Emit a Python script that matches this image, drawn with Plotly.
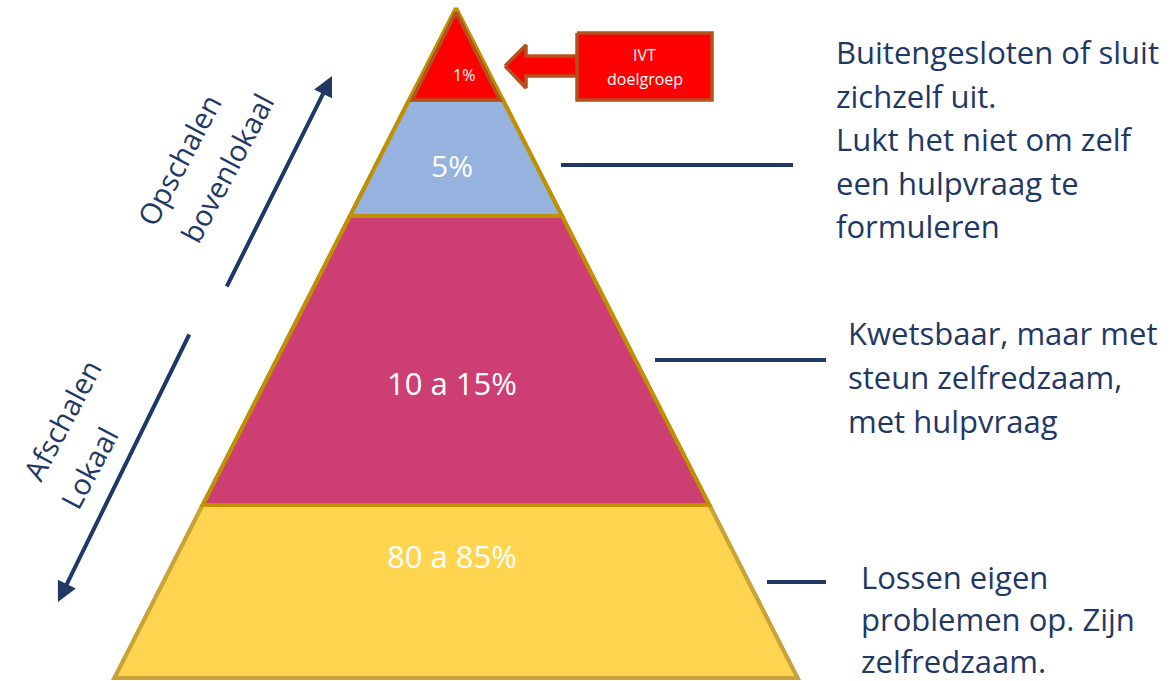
import plotly.graph_objects as go

# ---------------- data ----------------
layer_names = ["IVT doelgroep", "Buitengesloten", "Kwetsbaar", "Zelfredzaam"]
layer_pcts = ["1%", "5%", "10 a 15%", "80 a 85%"]
desc_blocks = [
    ["Buitengesloten of sluit", "zichzelf uit.", "Lukt het niet om zelf", "een hulpvraag te", "formuleren"],
    ["Kwetsbaar, maar met", "steun zelfredzaam,", "met hulpvraag"],
    ["Lossen eigen", "problemen op. Zijn", "zelfredzaam."],
]
callout_lines = ["IVT", "doelgroep"]
up_label = ["Opschalen", "bovenlokaal"]
down_label = ["Afschalen", "Lokaal"]

# ---------------- geometry & style ----------------
W, H = 1171, 681
apex_x, apex_y = 456, 8
base_y = 678
slope = 341.5 / (base_y - apex_y)
bounds = [apex_y, 100, 216, 505, base_y]
fills = ["#FF0000", "#95B3DE", "#CD3F72", "#FFD54F"]
outlines = ["#B5501F", "#BF9000", "#BF9000", "#C9A23A"]
pct_pos = [(464, 75, 16), (452, 165, 30), (452, 383, 31), (452, 556, 31)]
navy = "#1F3864"
FONT = "Open Sans"


def hw(y):
    return (y - apex_y) * slope


fig = go.Figure()

# pyramid outer outline
fig.add_trace(go.Scatter(
    x=[apex_x, apex_x + hw(base_y), apex_x - hw(base_y), apex_x],
    y=[apex_y, base_y, base_y, apex_y],
    mode="lines", line=dict(color="#BF9000", width=4), hoverinfo="skip"))

# layers, bottom to top
for i in reversed(range(len(layer_names))):
    yt, yb = bounds[i], bounds[i + 1]
    if i == 0:
        yt_draw = yt + 4
        xs = [apex_x, apex_x + hw(yb) - 3, apex_x - hw(yb) + 3, apex_x]
        ys = [yt_draw, yb, yb, yt_draw]
        lw = 3.5
    else:
        xs = [apex_x - hw(yt), apex_x + hw(yt), apex_x + hw(yb), apex_x - hw(yb), apex_x - hw(yt)]
        ys = [yt, yt, yb, yb, yt]
        lw = 4
    fig.add_trace(go.Scatter(x=xs, y=ys, fill="toself", fillcolor=fills[i],
                             mode="lines", line=dict(color=outlines[i], width=lw),
                             name=layer_names[i], hoverinfo="skip"))

for i, p in enumerate(layer_pcts):
    x, y, s = pct_pos[i]
    fig.add_annotation(x=x, y=y, text=p, showarrow=False,
                       font=dict(family=FONT, size=s, color="white"))

# callout arrow
ax_pts = [(505, 66), (526, 45), (526, 56), (578, 56), (578, 76), (526, 76), (526, 88), (505, 66)]
fig.add_trace(go.Scatter(x=[p[0] for p in ax_pts], y=[p[1] for p in ax_pts], fill="toself",
                         fillcolor="#FF0000", mode="lines",
                         line=dict(color="#B5501F", width=3.5), hoverinfo="skip"))
rx0, rx1, ry0, ry1 = 577, 712, 33, 100
fig.add_trace(go.Scatter(x=[rx0, rx1, rx1, rx0, rx0], y=[ry0, ry0, ry1, ry1, ry0], fill="toself",
                         fillcolor="#FF0000", mode="lines",
                         line=dict(color="#B5501F", width=3.5), hoverinfo="skip"))
for j, t in enumerate(callout_lines):
    fig.add_annotation(x=(rx0 + rx1) / 2, y=55 + j * 24, text=t, showarrow=False,
                       font=dict(family=FONT, size=16, color="white"))

# connector lines
conn = [(561, 793, 165), (655, 826, 360), (767, 826, 582)]
for x0, x1, y in conn:
    fig.add_trace(go.Scatter(x=[x0, x1], y=[y, y], mode="lines",
                             line=dict(color=navy, width=4), hoverinfo="skip"))

# descriptions
desc_pos = [(834, 52, 43.5), (846, 333, 44), (859, 577, 42)]
for (x0, y0, dy), lines in zip(desc_pos, desc_blocks):
    for k, t in enumerate(lines):
        fig.add_annotation(x=x0, y=y0 + k * dy, text=t, showarrow=False,
                           xanchor="left", yanchor="middle",
                           font=dict(family=FONT, size=31, color=navy))

# side arrows
fig.add_annotation(x=332, y=76, ax=226, ay=288, xref="x", yref="y", axref="x", ayref="y",
                   text="", showarrow=True, arrowhead=2, arrowsize=1, arrowwidth=4,
                   arrowcolor=navy)
fig.add_annotation(x=58, y=602, ax=190, ay=333, xref="x", yref="y", axref="x", ayref="y",
                   text="", showarrow=True, arrowhead=2, arrowsize=1, arrowwidth=4,
                   arrowcolor=navy)

rot = -62
for t, (x, y) in zip(up_label, [(178, 160), (226, 168)]):
    fig.add_annotation(x=x, y=y, text=t, showarrow=False, textangle=rot,
                       font=dict(family=FONT, size=29, color=navy))
for t, (x, y) in zip(down_label, [(61, 420), (88, 468)]):
    fig.add_annotation(x=x, y=y, text=t, showarrow=False, textangle=rot,
                       font=dict(family=FONT, size=29, color=navy))

fig.update_layout(
    width=W, height=H, margin=dict(l=0, r=0, t=0, b=0),
    paper_bgcolor="white", plot_bgcolor="white", showlegend=False,
    xaxis=dict(range=[0, W], visible=False, fixedrange=True),
    yaxis=dict(range=[H, 0], visible=False, fixedrange=True),
)
fig.write_html("out.html", config={"displayModeBar": False},
               post_script="document.body.style.margin='0px';")
